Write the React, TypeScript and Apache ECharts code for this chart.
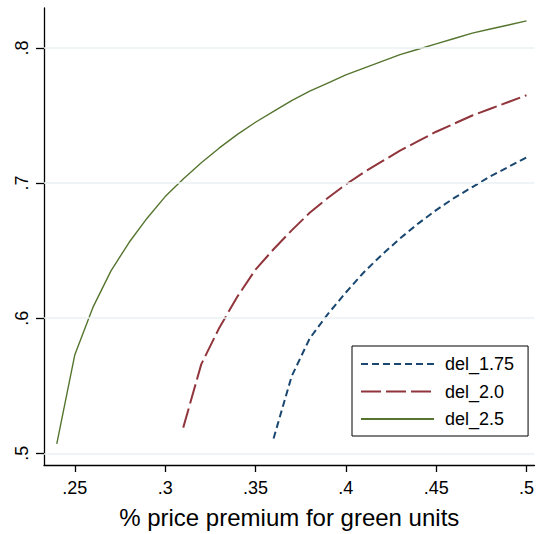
import React, { useEffect, useRef } from "react";
import * as echarts from "echarts";

const xTicks = [0.25, 0.3, 0.35, 0.4, 0.45, 0.5];
const yTicks = [0.5, 0.6, 0.7, 0.8];

const xDel175 = [0.36, 0.37, 0.38, 0.39, 0.4, 0.41, 0.42, 0.43, 0.44, 0.45, 0.46, 0.47, 0.48, 0.49, 0.5];
const yDel175 = [0.511, 0.557, 0.585, 0.603, 0.619, 0.634, 0.647, 0.659, 0.67, 0.68, 0.689, 0.697, 0.705, 0.712, 0.719];

const xDel20 = [0.31, 0.32, 0.33, 0.34, 0.35, 0.36, 0.37, 0.38, 0.39, 0.4, 0.41, 0.42, 0.43, 0.44, 0.45, 0.46, 0.47, 0.48, 0.49, 0.5];
const yDel20 = [0.519, 0.566, 0.593, 0.616, 0.636, 0.651, 0.665, 0.678, 0.689, 0.699, 0.708, 0.716, 0.724, 0.731, 0.738, 0.744, 0.75, 0.755, 0.76, 0.765];

const xDel25 = [0.24, 0.25, 0.26, 0.27, 0.28, 0.29, 0.3, 0.31, 0.32, 0.33, 0.34, 0.35, 0.36, 0.37, 0.38, 0.39, 0.4, 0.41, 0.42, 0.43, 0.44, 0.45, 0.46, 0.47, 0.48, 0.49, 0.5];
const yDel25 = [0.507, 0.573, 0.608, 0.635, 0.656, 0.674, 0.69, 0.703, 0.715, 0.726, 0.736, 0.745, 0.753, 0.761, 0.768, 0.774, 0.78, 0.785, 0.79, 0.795, 0.799, 0.803, 0.807, 0.811, 0.814, 0.817, 0.82];

const seriesNames = ["del_1.75", "del_2.0", "del_2.5"];
const xTitle = "% price premium for green units";

const FONT = "'Liberation Sans', Arial, Helvetica, sans-serif";

function pairs(xs: number[], ys: number[]) {
  return xs.map((x, i) => [x, ys[i]]);
}

function fmt(v: number) {
  return String(v).replace(/^0/, "");
}

export default function App() {
  const ref = useRef<HTMLDivElement>(null);
  useEffect(() => {
    if (!ref.current) return;
    const chart = echarts.init(ref.current, null, { renderer: "svg" });
    const option = {
      animation: false,
      backgroundColor: "#ffffff",
      textStyle: { fontFamily: FONT },
      grid: { left: 44, top: 8, right: 0, bottom: 68, containLabel: false },
      xAxis: {
        type: "value",
        min: 0.23293,
        max: 0.50441,
        name: xTitle,
        nameLocation: "middle",
        nameGap: 40,
        nameTextStyle: { fontSize: 24, color: "#000", fontFamily: FONT },
        axisLine: { show: true, lineStyle: { color: "#000", width: 1.3 } },
        axisTick: { show: true, length: 7, customValues: xTicks, lineStyle: { color: "#000", width: 1.3 } },
        axisLabel: { customValues: xTicks, formatter: fmt, fontSize: 18, color: "#000", margin: 14, fontFamily: FONT },
        splitLine: { show: false },
      },
      yAxis: {
        type: "value",
        min: 0.49135,
        max: 0.82956,
        axisLine: { show: true, lineStyle: { color: "#000", width: 1.3 } },
        axisTick: { show: true, length: 8, customValues: yTicks, lineStyle: { color: "#000", width: 1.3 } },
        axisLabel: { customValues: yTicks, formatter: fmt, fontSize: 18, color: "#000", rotate: 90, margin: 13, fontFamily: FONT },
        splitLine: { show: false },
      },
      legend: {
        show: true,
        data: seriesNames,
        orient: "vertical",
        left: 352,
        top: 346,
        padding: [9, 14, 8, 8],
        itemWidth: 73,
        itemHeight: 18,
        itemGap: 9.5,
        borderColor: "#000",
        borderWidth: 1,
        backgroundColor: "#fff",
        itemStyle: { opacity: 0, borderWidth: 0 },
        textStyle: { fontSize: 18, color: "#000", fontFamily: FONT, padding: [0, 0, 0, 6] },
      },
      series: [
        {
          name: "gridlines",
          type: "line",
          data: [],
          silent: true,
          z: 1,
          markLine: {
            silent: true,
            symbol: ["none", "none"],
            label: { show: false },
            lineStyle: { color: "#eaf2f3", width: 1.5, type: "solid" },
            data: yTicks.map((v) => ({ yAxis: v })),
          },
        },
        {
          name: seriesNames[0],
          type: "line",
          data: pairs(xDel175, yDel175),
          showSymbol: false,
          symbol: "none",
          z: 3,
          lineStyle: { color: "#1a476f", width: 2, type: [7, 4] },
          itemStyle: { color: "#1a476f" },
        },
        {
          name: seriesNames[1],
          type: "line",
          data: pairs(xDel20, yDel20),
          showSymbol: false,
          symbol: "none",
          z: 3,
          lineStyle: { color: "#90353b", width: 2, type: [20, 5] },
          itemStyle: { color: "#90353b" },
        },
        {
          name: seriesNames[2],
          type: "line",
          data: pairs(xDel25, yDel25),
          showSymbol: false,
          symbol: "none",
          z: 3,
          lineStyle: { color: "#55752f", width: 1.4, type: "solid" },
          itemStyle: { color: "#55752f" },
        },
      ],
    };
    chart.setOption(option as any);
    return () => {
      chart.dispose();
    };
  }, []);
  return (
    <div
      ref={ref}
      style={{ position: "fixed", left: 0, top: 0, width: 537, height: 534, background: "#fff" }}
    />
  );
}
